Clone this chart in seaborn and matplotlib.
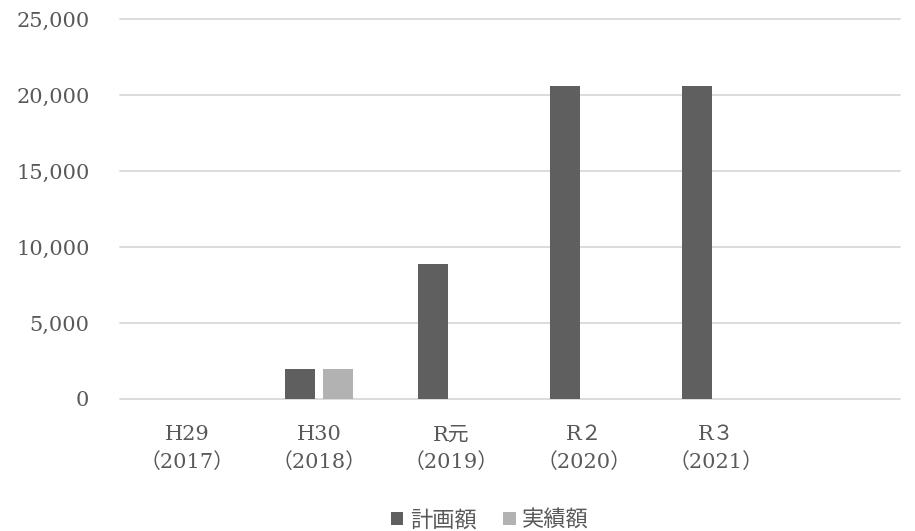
import matplotlib
matplotlib.use("Agg")
import matplotlib.pyplot as plt
import seaborn as sns
import pandas as pd
from matplotlib.patches import Patch
from matplotlib.ticker import FuncFormatter

# データ
years = ["H29\n（2017）", "H30\n（2018）", "R元\n（2019）", "R２\n（2020）", "R３\n（2021）", ""]
planned = [0, 1950, 8850, 20570, 20570, 0]
actual = [0, 1980, 0, 0, 0, 0]
series = ["計画額", "実績額"]
colors = ["#5f5f5f", "#b2b2b2"]

df = pd.DataFrame({
    "year": years * 2,
    "value": planned + actual,
    "series": [series[0]] * len(years) + [series[1]] * len(years),
})

sns.set_style("white")
plt.rcParams["font.family"] = ["DejaVu Serif", "Noto Sans CJK JP"]
text_color = "#595959"

fig = plt.figure(figsize=(9.15, 5.31), dpi=100)
ax = fig.add_axes([120 / 915, 132 / 531, 780 / 915, 380 / 531])

sns.barplot(data=df, x="year", y="value", hue="series", order=years,
            hue_order=series, palette=colors, width=0.575, gap=0.21,
            linewidth=0, saturation=1, legend=False, ax=ax)

ax.set_xlim(-0.507, 5.391)
ax.set_ylim(0, 25000)
ax.set_yticks(range(0, 25001, 5000))
ax.yaxis.set_major_formatter(FuncFormatter(lambda v, p: f"{v:,.0f}"))
ax.set_xticks(range(len(years)))
ax.set_xticklabels(years, linespacing=1.5)
ax.set_xlabel("")
ax.set_ylabel("")

ax.yaxis.grid(True, color="#d9d9d9", linewidth=1.3)
ax.set_axisbelow(True)
for line in ax.get_ygridlines():
    line.set_clip_on(False)
for s in ax.spines.values():
    s.set_visible(False)

ax.tick_params(axis="y", length=0, pad=22, labelsize=15, labelcolor=text_color)
ax.tick_params(axis="x", length=0, pad=19, labelsize=15, labelcolor=text_color)

handles = [Patch(facecolor=c, edgecolor="none") for c in colors]
fig.legend(handles, series, loc="center", bbox_to_anchor=(490 / 915, 1 - 520 / 531),
           ncol=2, frameon=False, handlelength=0.55, handleheight=0.55,
           handletextpad=0.3, columnspacing=1.2,
           prop={"family": ["Noto Sans CJK JP"], "size": 16}, labelcolor=text_color)

fig.savefig("out.png", dpi=100)
